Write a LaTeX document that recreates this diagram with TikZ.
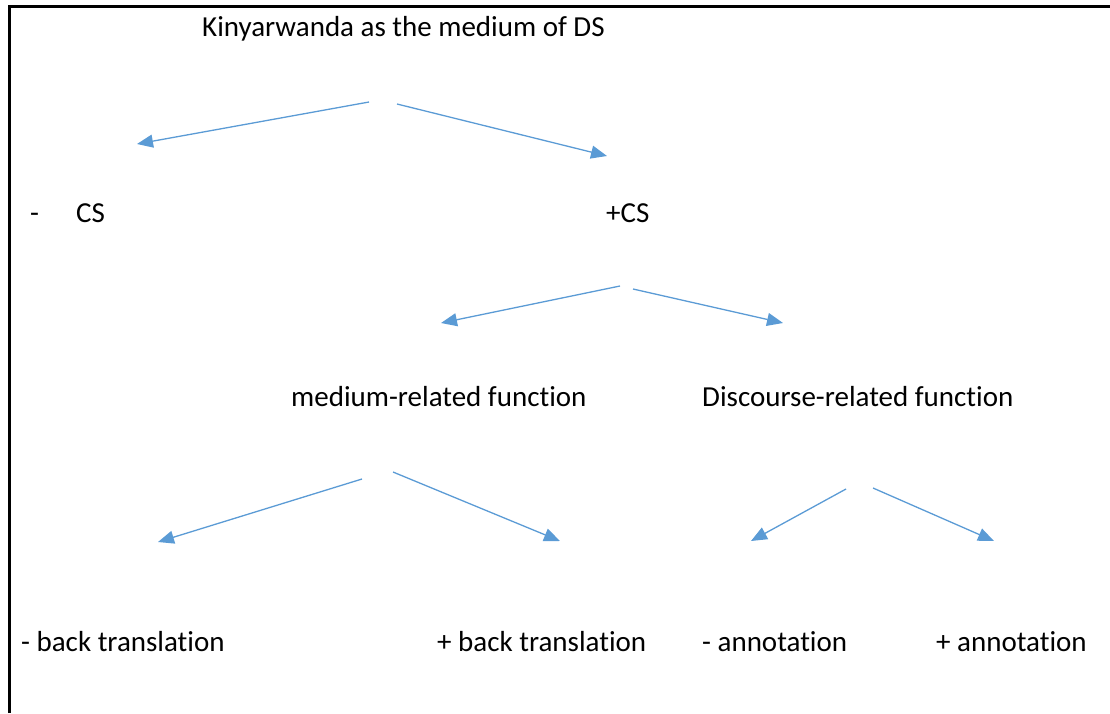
\documentclass[tikz,border=0pt]{standalone}
\usepackage{fontspec}
\setmainfont{Carlito}[Ligatures={NoCommon,NoRare,NoContextual}]
\usepackage{tikz}
\usetikzlibrary{arrows.meta}
\definecolor{branchblue}{HTML}{5B9BD5}
\tikzset{
  branch/.style={draw=branchblue,line width=1.3pt,
    -{Triangle[length=16pt,width=13pt]}},
  lbl/.style={anchor=base west,inner sep=0pt,
    font=\fontsize{29}{34}\selectfont}
}

\begin{document}
\begin{tikzpicture}[x=1pt,y=-1pt]
    \useasboundingbox (0,0) rectangle (1110,713);
    \draw[line width=3pt] (9,713) -- (9,6) -- (1110,6);
    \node[lbl] (top) at (202,36) {Kinyarwanda as the medium of DS};
    \node[lbl] (minus) at (30,222) {-};
    \node[lbl] (mcs) at (76,222) {CS};
    \node[lbl] (pcs) at (606,222) {+CS};
    \node[lbl] (medium) at (291,406) {medium-related function};
    \node[lbl] (discourse) at (702,406) {Discourse-related function};
    \node[lbl] (mback) at (21,651) {- back translation};
    \node[lbl] (pback) at (437,651) {+ back translation};
    \node[lbl] (mann) at (702,651) {- annotation};
    \node[lbl] (pann) at (936,651) {+ annotation};
    \coordinate (a1) at (369,102);
    \coordinate (b1) at (137,144);
    \coordinate (a2) at (397,104);
    \coordinate (b2) at (607,156);
    \coordinate (a3) at (620,286);
    \coordinate (b3) at (441,323);
    \coordinate (a4) at (633,289);
    \coordinate (b4) at (783,323);
    \coordinate (a5) at (362,479);
    \coordinate (b5) at (158,542);
    \coordinate (a6) at (393,472);
    \coordinate (b6) at (560,541);
    \coordinate (a7) at (846,489);
    \coordinate (b7) at (751,541);
    \coordinate (a8) at (873,488);
    \coordinate (b8) at (994,541);
    \foreach \i in {1,...,8}
      \draw[branch] (a\i) -- (b\i);
\end{tikzpicture}
\end{document}
